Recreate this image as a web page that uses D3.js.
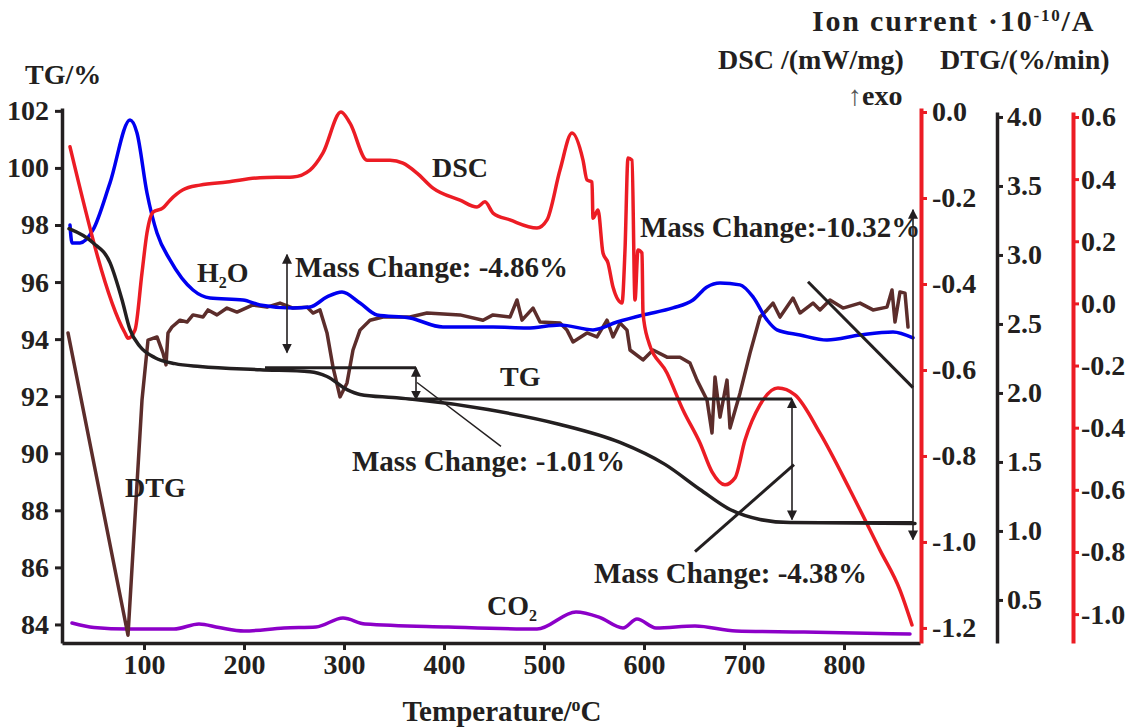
<!DOCTYPE html>
<html>
<head>
<meta charset="utf-8">
<script src="https://cdn.jsdelivr.net/npm/d3@7"></script>
<style>
  html, body { margin: 0; padding: 0; background: #fff; }
  svg text { font-family: "Liberation Serif", "Times New Roman", serif; font-weight: bold; fill: #231f20; }
</style>
</head>
<body>
<svg id="chart" width="1133" height="727"></svg>
<script>
// temperature (°C), value pairs
const tgData = [[25,97.87],[49,97.38],[66,96.68],[78,95.38],[86,94.33],[96,93.74],[111,93.35],[131,93.14],[156,93.04],[216,92.93],[266,92.86],[283,92.69],[303,92.23],[316,92.06],[349,91.95],[371,91.88],[444,91.53],[516,91.01],[576,90.38],[621,89.61],[656,88.73],[686,88.03],[716,87.68],[746,87.57],[871,87.54]]

const dscData = [[26,-0.081],[81,-0.514],[84,-0.526],[91,-0.507],[98,-0.374],[103,-0.281],[109,-0.233],[119,-0.223],[126,-0.205],[139,-0.181],[156,-0.170],[183,-0.163],[216,-0.153],[249,-0.151],[266,-0.135],[279,-0.095],[297,0.0],[306,-0.026],[323,-0.112],[346,-0.112],[359,-0.119],[373,-0.142],[389,-0.177],[416,-0.205],[433,-0.221],[441,-0.209],[449,-0.235],[466,-0.251],[493,-0.270],[503,-0.251],[516,-0.135],[528,-0.049],[539,-0.112],[543,-0.158],[548,-0.163],[549,-0.247],[554,-0.228],[559,-0.328],[564,-0.351],[569,-0.407],[578,-0.444],[581,-0.321],[584,-0.107],[588,-0.112],[591,-0.437],[594,-0.321],[598,-0.328],[599,-0.467],[604,-0.530],[623,-0.607],[639,-0.693],[656,-0.770],[668,-0.837],[681,-0.867],[691,-0.851],[701,-0.763],[716,-0.681],[734,-0.642],[751,-0.658],[776,-0.747],[806,-0.879],[836,-1.019],[856,-1.112],[868,-1.193]]

const h2oData = [[26,3.217],[28,3.087],[36,3.087],[49,3.181],[66,3.522],[86,3.978],[93,3.884],[103,3.449],[113,3.159],[126,2.964],[149,2.746],[166,2.688],[199,2.674],[216,2.638],[249,2.616],[266,2.623],[283,2.696],[298,2.732],[316,2.652],[333,2.565],[366,2.543],[399,2.478],[449,2.478],[483,2.471],[516,2.493],[549,2.457],[573,2.514],[599,2.565],[629,2.616],[649,2.674],[663,2.768],[676,2.797],[696,2.783],[709,2.696],[723,2.529],[733,2.457],[756,2.420],[783,2.384],[816,2.420],[849,2.442],[869,2.399]]

const co2Data = [[28,0.333],[50,0.30],[84,0.289],[130,0.289],[155,0.326],[175,0.30],[200,0.275],[240,0.297],[272,0.304],[299,0.369],[321,0.326],[404,0.304],[493,0.289],[532,0.413],[555,0.376],[579,0.297],[593,0.362],[612,0.297],[651,0.311],[692,0.275],[760,0.268],[866,0.253]]

const dtgData = [[24,-0.095],[84,-1.068],[98,-0.311],[104,-0.118],[113,-0.108],[119,-0.160],[122,-0.198],[124,-0.095],[128,-0.076],[136,-0.054],[143,-0.060],[149,-0.037],[159,-0.044],[164,-0.021],[173,-0.037],[183,-0.015],[193,-0.028],[209,-0.005],[223,-0.012],[236,0.001],[249,-0.015],[263,-0.012],[269,-0.031],[276,-0.021],[283,-0.095],[289,-0.205],[296,-0.301],[303,-0.256],[309,-0.150],[316,-0.086],[326,-0.054],[339,-0.044],[366,-0.044],[383,-0.031],[416,-0.037],[439,-0.054],[449,-0.037],[466,-0.044],[473,0.011],[478,-0.054],[489,-0.015],[496,-0.060],[516,-0.063],[523,-0.086],[529,-0.124],[543,-0.095],[553,-0.108],[563,-0.054],[569,-0.108],[576,-0.063],[583,-0.086],[586,-0.150],[599,-0.182],[609,-0.150],[623,-0.173],[636,-0.173],[646,-0.192],[653,-0.247],[663,-0.311],[668,-0.417],[671,-0.237],[676,-0.366],[683,-0.247],[686,-0.401],[696,-0.289],[706,-0.160],[716,-0.044],[723,-0.021],[729,0.001],[736,-0.044],[749,0.017],[756,-0.031],[769,0.001],[776,-0.021],[786,0.011],[799,-0.015],[816,0.001],[829,-0.021],[843,-0.012],[848,0.043],[851,-0.060],[856,0.037],[861,0.033],[864,-0.076]]

// tick values
const xTicks = [100, 200, 300, 400, 500, 600, 700, 800]
const tgTicks = [84, 86, 88, 90, 92, 94, 96, 98, 100, 102]
const dscTicks = [0.0, -0.2, -0.4, -0.6, -0.8, -1.0, -1.2]
const ionTicks = [4.0, 3.5, 3.0, 2.5, 2.0, 1.5, 1.0, 0.5]
const dtgTicks = [0.6, 0.4, 0.2, 0.0, -0.2, -0.4, -0.6, -0.8, -1.0]

// mass change annotations (temperature, TG %)
const arrows = [
  { t: 243, from: 96.96, to: 93.53 },
  { t: 372, from: 93.0, to: 91.88 },
  { t: 748, from: 91.9, to: 87.68 },
  { t: 869, from: 98.53, to: 86.98 }
]
const levels = [
  { t0: 221, t1: 372, v: 93.0 },
  { t0: 372, t1: 748, v: 91.9 },
  { t0: 746, t1: 869, v: 87.57 }
]
const leaders = [
  { t0: 373, v0: 92.48, t1: 457, v1: 90.24, w: 1.5 },
  { t0: 750, v0: 89.6, t1: 651, v1: 86.55, w: 3 },
  { t0: 764, v0: 96.01, t1: 869, v1: 92.30, w: 3 }
]
const massLabels = [
  { text: 'Mass Change: -4.86%', t: 251, v: 96.19 },
  { text: 'Mass Change: -1.01%', t: 308, v: 89.39 },
  { text: 'Mass Change: -4.38%', t: 550, v: 85.44 },
  { text: 'Mass Change:-10.32%', t: 596, v: 97.59 }
]
const curveLabels = [
  { text: 'DSC', sub: '', t: 388, v: 99.69 },
  { text: 'H', sub: '2', rest: 'O', t: 153, v: 96.01 },
  { text: 'TG', sub: '', t: 456, v: 92.34 },
  { text: 'DTG', sub: '', t: 81, v: 88.48 },
  { text: 'CO', sub: '2', rest: '', t: 443, v: 84.32 }
]

const RED = '#ec1c24'
const DARK = '#231f20'

const svg = d3.select('#chart')

// scales
const x = d3.scaleLinear().domain([18, 876]).range([62, 920])
const yTG = d3.scaleLinear().domain([83.35, 102.1]).range([643, 108])
const yDSC = d3.scaleLinear().domain([-1.235, 0.0093]).range([643, 108])
const yIon = d3.scaleLinear().domain([0.188, 4.036]).range([643, 112])
const yDTG = d3.scaleLinear().domain([-1.093, 0.616]).range([643, 112])

const defs = svg.append('defs')
defs.append('marker')
  .attr('id', 'head')
  .attr('viewBox', '0 0 10 10')
  .attr('refX', 9).attr('refY', 5)
  .attr('markerWidth', 10).attr('markerHeight', 10)
  .attr('markerUnits', 'userSpaceOnUse')
  .attr('orient', 'auto-start-reverse')
  .append('path')
  .attr('d', 'M0,0 L10,5 L0,10 Z')
  .attr('fill', DARK)

// curves
function drawCurve(data, yScale, color, width, curve) {
  const line = d3.line()
    .x(d => x(d[0]))
    .y(d => yScale(d[1]))
    .curve(curve)
  svg.append('path')
    .datum(data)
    .attr('d', line)
    .attr('fill', 'none')
    .attr('stroke', color)
    .attr('stroke-width', width)
    .attr('stroke-linejoin', 'round')
    .attr('stroke-linecap', 'round')
}

drawCurve(co2Data, yIon, '#8c00c8', 3.5, d3.curveMonotoneX)
drawCurve(dtgData, yDTG, '#5c2d2b', 3.5, d3.curveLinear)
drawCurve(h2oData, yIon, '#0000f0', 3.5, d3.curveMonotoneX)
drawCurve(dscData, yDSC, RED, 3.5, d3.curveMonotoneX)
drawCurve(tgData, yTG, DARK, 3.5, d3.curveMonotoneX)

// annotation lines
levels.forEach(d => {
  svg.append('line')
    .attr('x1', x(d.t0)).attr('x2', x(d.t1))
    .attr('y1', yTG(d.v)).attr('y2', yTG(d.v))
    .attr('stroke', DARK).attr('stroke-width', 3)
})
leaders.forEach(d => {
  svg.append('line')
    .attr('x1', x(d.t0)).attr('y1', yTG(d.v0))
    .attr('x2', x(d.t1)).attr('y2', yTG(d.v1))
    .attr('stroke', DARK).attr('stroke-width', d.w)
})
arrows.forEach(d => {
  svg.append('line')
    .attr('x1', x(d.t)).attr('x2', x(d.t))
    .attr('y1', yTG(d.from)).attr('y2', yTG(d.to))
    .attr('stroke', DARK).attr('stroke-width', 1.6)
    .attr('marker-start', 'url(#head)')
    .attr('marker-end', 'url(#head)')
})

svg.selectAll('text.mass')
  .data(massLabels)
  .join('text')
  .attr('class', 'mass')
  .attr('x', d => x(d.t))
  .attr('y', d => yTG(d.v))
  .style('font-size', '29px')
  .text(d => d.text)

curveLabels.forEach(d => {
  const t = svg.append('text')
    .attr('x', x(d.t)).attr('y', yTG(d.v))
    .style('font-size', '28px')
  t.append('tspan').text(d.text)
  if (d.sub) {
    t.append('tspan').attr('dy', 6).style('font-size', '16px').text(d.sub)
    t.append('tspan').attr('dy', -6).text(d.rest)
  }
})

// axes
function styleAxis(g, color, width) {
  g.select('.domain').attr('stroke', color).attr('stroke-width', width)
  g.selectAll('.tick line').attr('stroke', color).attr('stroke-width', 3)
  g.selectAll('.tick text')
    .attr('fill', DARK)
    .style('font-family', '"Liberation Serif", "Times New Roman", serif')
    .style('font-weight', 'bold')
    .style('font-size', '28px')
}

const fmt1 = d => d.toFixed(1)

svg.append('g')
  .attr('transform', 'translate(62,0)')
  .call(d3.axisLeft(yTG).tickValues(tgTicks).tickSize(7).tickSizeOuter(0).tickPadding(6))
  .call(g => styleAxis(g, DARK, 3.5))

svg.append('g')
  .attr('transform', 'translate(0,643)')
  .call(d3.axisBottom(x).tickValues(xTicks).tickSize(7).tickSizeOuter(0).tickPadding(4))
  .call(g => styleAxis(g, DARK, 3.5))

svg.append('g')
  .attr('transform', 'translate(921,0)')
  .call(d3.axisRight(yDSC).tickValues(dscTicks).tickFormat(fmt1).tickSize(6).tickSizeOuter(0).tickPadding(5))
  .call(g => styleAxis(g, RED, 4))

svg.append('g')
  .attr('transform', 'translate(997,0)')
  .call(d3.axisRight(yIon).tickValues(ionTicks).tickFormat(fmt1).tickSize(6).tickSizeOuter(0).tickPadding(4))
  .call(g => styleAxis(g, DARK, 3.5))

svg.append('g')
  .attr('transform', 'translate(1073,0)')
  .call(d3.axisRight(yDTG).tickValues(dtgTicks).tickFormat(fmt1).tickSize(6).tickSizeOuter(0).tickPadding(2))
  .call(g => styleAxis(g, RED, 4))

// axis titles
svg.append('text').attr('x', 25).attr('y', 84).style('font-size', '28px').text('TG/%')

const ion = svg.append('text').attr('x', 812).attr('y', 31)
  .style('font-size', '30px').style('letter-spacing', '1.8px')
ion.append('tspan').text('Ion current ·10')
ion.append('tspan').attr('dy', -10).style('font-size', '17px').text('-10')
ion.append('tspan').attr('dy', 10).text('/A')

svg.append('text').attr('x', 718).attr('y', 69).style('font-size', '28px').text('DSC /(mW/mg)')
svg.append('text').attr('x', 940).attr('y', 69).style('font-size', '28px').text('DTG/(%/min)')

const exo = svg.append('text').attr('x', 848).attr('y', 105).style('font-size', '28px')
exo.append('tspan').style('font-weight', 'normal').attr('fill', '#555').text('↑')
exo.append('tspan').text('exo')

const xt = svg.append('text').attr('x', 502).attr('y', 721).attr('text-anchor', 'middle').style('font-size', '29px')
xt.append('tspan').text('Temperature/')
xt.append('tspan').attr('dy', -10).style('font-size', '18px').text('o')
xt.append('tspan').attr('dy', 10).text('C')
</script>
</body>
</html>
